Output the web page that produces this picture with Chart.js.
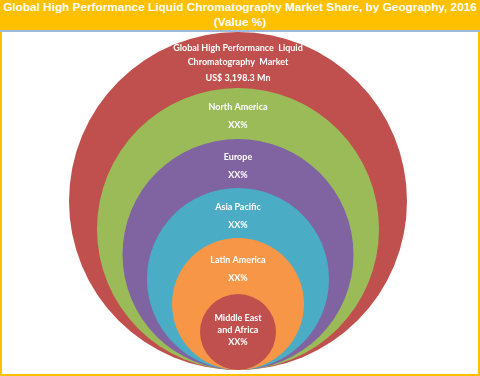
<!DOCTYPE html>
<html>
<head>
<meta charset="utf-8">
<script src="https://cdn.jsdelivr.net/npm/chart.js@4/dist/chart.umd.min.js"></script>
<style>
  html, body { margin: 0; padding: 0; background: #fff; }
  #wrap { position: relative; width: 480px; height: 376px; overflow: hidden; }
  #title {
    position: absolute; left: 0; top: 0; width: 480px; height: 30px;
    background: #FFC000; color: #fff; text-align: center;
    font: bold 11.8px "Liberation Sans", Arial, sans-serif; line-height: 15px;
    white-space: nowrap; border-bottom: 2px solid #9DB9DE;
  }
  #box {
    position: absolute; left: 0; top: 32px; width: 476px; height: 342px;
    border: 2px solid #FFC000; border-top: none;
  }
</style>
</head>
<body>
<div id="wrap">
  <div id="title">Global High Performance Liquid Chromatography Market Share, by Geography, 2016<br>(Value %)</div>
  <div id="box"><canvas id="myChart" width="476" height="342"></canvas></div>
</div>
<script>
// nested circles, biggest first
const regions = [
  ['Global High Performance  Liquid', 'Chromatography  Market'],
  ['North America'],
  ['Europe'],
  ['Asia Pacific'],
  ['Latin America'],
  ['Middle East', 'and Africa']
];
const valueLabels = ['US$ 3,198.3 Mn', 'XX%', 'XX%', 'XX%', 'XX%', 'XX%'];
const circleSizes = [169, 141, 115.5, 91, 66, 38];
const colors = ['#C0504D', '#9BBB59', '#8064A2', '#4BACC6', '#F79646', '#C0504D'];

// radius in pixels taken from the y scale so circles keep their size
const pxRadius = (chart, v) => {
  const s = chart.scales && chart.scales.y;
  if (!s) return 0;
  const d = s.getPixelForValue(0) - s.getPixelForValue(v);
  return isFinite(d) ? d : 0;
};

const labelPlugin = {
  id: 'circleLabels',
  afterDatasetsDraw(chart) {
    const ctx = chart.ctx;
    const pts = chart.getDatasetMeta(0).data;
    ctx.save();
    ctx.fillStyle = '#fff';
    ctx.font = 'bold 9px Lato, sans-serif';
    ctx.textAlign = 'center';
    ctx.textBaseline = 'middle';
    pts.forEach((p, i) => {
      const r = pxRadius(chart, circleSizes[i]);
      const top = p.y - r;
      let mid;
      if (i < pts.length - 1) {
        const nr = pxRadius(chart, circleSizes[i + 1]);
        const ntop = pts[i + 1].y - nr;
        mid = (top + ntop) / 2 + 3;
      } else {
        mid = p.y - 2;
      }
      const names = regions[i];
      const last = i === pts.length - 1;
      const gap = names.length > 1 ? (last ? 12 : 16) : 18;
      const step = last ? 12 : 14;
      const h = (names.length - 1) * step + gap;
      const y = mid - h / 2;
      names.forEach((t, k) => {
        ctx.fillText(t, p.x, y + k * step);
      });
      ctx.fillText(valueLabels[i], p.x, y + (names.length - 1) * step + gap);
    });
    ctx.restore();
  }
};

const ctx = document.getElementById('myChart').getContext('2d');
const myChart = new Chart(ctx, {
  type: 'bubble',
  data: {
    labels: regions.map(r => r.join(' ')),
    datasets: [{
      data: circleSizes.map(v => ({ x: 0, y: v, r: 0 })),
      backgroundColor: colors,
      borderWidth: 0,
      hoverBorderWidth: 0,
      clip: false
    }]
  },
  options: {
    responsive: false,
    animation: false,
    events: [],
    layout: { autoPadding: false, padding: { left: 0, right: 4, top: 0, bottom: 4 } },
    plugins: { legend: { display: false }, title: { display: false }, tooltip: { enabled: false } },
    scales: {
      x: { display: false, min: -1, max: 1 },
      y: { display: false, min: 0, max: 338 }
    }
  },
  plugins: [labelPlugin]
});

// bubble r is in pixels, so turn the sizes into pixels with the y scale
myChart.data.datasets[0].data.forEach((d, i) => {
  d.r = pxRadius(myChart, circleSizes[i]);
});
myChart.update();
</script>
</body>
</html>
